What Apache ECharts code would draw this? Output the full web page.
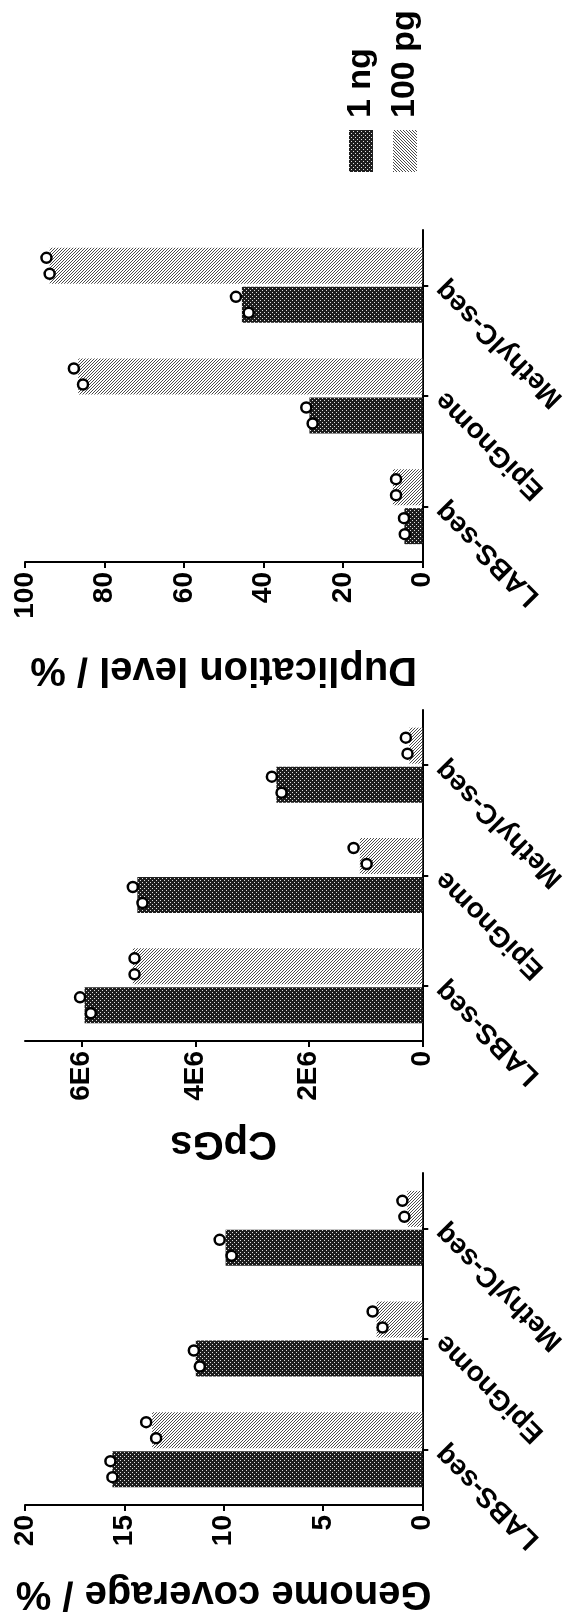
<!DOCTYPE html>
<html><head><meta charset="utf-8">
<script src="https://cdn.jsdelivr.net/npm/echarts@6/dist/echarts.min.js"></script>
<style>html,body{margin:0;padding:0;background:#fff}#c{width:570px;height:1614px}</style>
</head><body><div id="c"></div>
<script>
// ---------- data ----------
const categories = ['LABS-seq', 'EpiGnome', 'MethylC-seq'];
const seriesNames = ['1 ng', '100 pg'];

// Duplication level / %
const dupBars1ng   = [4.5, 28.4, 45.4];
const dupBars100pg = [7.4, 86.6, 93.8];
const dupReps1ng   = [[4.6, 4.4], [29.2, 27.6], [46.9, 43.7]];
const dupReps100pg = [[6.6, 6.6], [87.7, 85.4], [94.6, 93.8]];
const dupTicks = [0, 20, 40, 60, 80, 100];

// CpGs
const cpgBars1ng   = [5.95e6, 5.02e6, 2.57e6];
const cpgBars100pg = [5.10e6, 1.10e6, 0.23e6];
const cpgReps1ng   = [[6.03e6, 5.84e6], [5.10e6, 4.93e6], [2.65e6, 2.48e6]];
const cpgReps100pg = [[5.07e6, 5.07e6], [1.21e6, 0.98e6], [0.29e6, 0.26e6]];
const cpgTicks = [0, 2e6, 4e6, 6e6];
const cpgTickLabels = ['0', '2E6', '4E6', '6E6'];

// Genome coverage / %
const covBars1ng   = [15.6, 11.4, 9.9];
const covBars100pg = [13.6, 2.3, 0.75];
const covReps1ng   = [[15.7, 15.6], [11.5, 11.2], [10.2, 9.6]];
const covReps100pg = [[13.9, 13.4], [2.5, 2.0], [1.0, 0.9]];
const covTicks = [0, 5, 10, 15, 20];

// ---------- styling / layout ----------
const FONT = '"Liberation Sans", Arial, sans-serif';
const BAR_W = 36, BAR_GAP_PX = 3;
const SER_OFF = (BAR_W + BAR_GAP_PX) / 2;
const JITTER = [-8, 8];

function makePattern(kind) {
  const c = document.createElement('canvas');
  if (kind === 'dark') {
    c.width = 4; c.height = 4;
    const g = c.getContext('2d');
    g.fillStyle = '#1e1e1e'; g.fillRect(0, 0, 4, 4);
    g.fillStyle = '#e0e0e0'; g.fillRect(0, 0, 1, 1); g.fillRect(2, 2, 1, 1);
  } else {
    c.width = 3; c.height = 3;
    const g = c.getContext('2d');
    g.fillStyle = '#ffffff'; g.fillRect(0, 0, 3, 3);
    g.fillStyle = '#4a4a4a';
    for (let i = 0; i < 3; i++) g.fillRect(i, 2 - i, 1, 1);
  }
  return { image: c, repeat: 'repeat' };
}
const fills = [makePattern('dark'), makePattern('light')];

const panels = [
  { name: 'Duplication level / %', top: 230, height: 332, max: 100, interval: 20, ticks: dupTicks, labels: null,
    bars: [dupBars1ng, dupBars100pg], reps: [dupReps1ng, dupReps100pg], nameGap: 87 },
  { name: 'CpGs', top: 710, height: 331, max: 7e6, interval: 2e6, ticks: cpgTicks, labels: cpgTickLabels,
    bars: [cpgBars1ng, cpgBars100pg], reps: [cpgReps1ng, cpgReps100pg], nameGap: 82 },
  { name: 'Genome coverage / %', top: 1173, height: 332, max: 20, interval: 5, ticks: covTicks, labels: null,
    bars: [covBars1ng, covBars100pg], reps: [covReps1ng, covReps100pg], nameGap: 68 }
];

const grid = [], xAxis = [], yAxis = [], series = [];
// ECharts places the first bar series on top in a horizontal group:
// draw 100 pg first (upper bar), 1 ng second (lower bar)
const barOrder = [1, 0];
const serSign = [1, -1]; // 1 ng below centre, 100 pg above
panels.forEach((p, k) => {
  grid.push({ left: 25, right: 140, top: p.top, height: p.height });
  xAxis.push({
    gridIndex: k, type: 'value', inverse: true, min: 0, max: p.max, interval: p.interval,
    position: 'bottom',
    name: p.name, nameLocation: 'middle', nameGap: p.nameGap, nameRotate: 180,
    nameTextStyle: { fontFamily: FONT, fontWeight: 'bold', fontSize: 40, color: '#000' },
    axisLine: { show: true, lineStyle: { color: '#000', width: 2 } },
    axisTick: { show: true, length: 6, lineStyle: { color: '#000', width: 2 } },
    splitLine: { show: false },
    axisLabel: {
      rotate: 90, margin: 10, fontFamily: FONT, fontWeight: 'bold', fontSize: 28, color: '#000',
      showMaxLabel: p.ticks.indexOf(p.max) >= 0,
      formatter: v => {
        const i = p.ticks.indexOf(v);
        if (i < 0) return '';
        return p.labels ? p.labels[i] : String(v);
      }
    }
  });
  yAxis.push({
    gridIndex: k, type: 'category', data: categories, position: 'right',
    axisLine: { show: true, lineStyle: { color: '#000', width: 2 } },
    axisTick: { show: true, alignWithLabel: true, length: 6, lineStyle: { color: '#000', width: 2 } },
    axisLabel: { rotate: 135, margin: 18, fontFamily: FONT, fontWeight: 'bold', fontSize: 28, color: '#000' }
  });
  barOrder.forEach(s => {
    series.push({
      type: 'bar', name: seriesNames[s], xAxisIndex: k, yAxisIndex: k,
      barWidth: BAR_W, barGap: (BAR_GAP_PX / BAR_W * 100) + '%',
      itemStyle: { color: fills[s] },
      data: p.bars[s], silent: true, z: 2
    });
  });
  [0, 1].forEach(s => {
    const data = [];
    p.reps[s].forEach((reps, ci) => {
      reps.forEach((v, r) => {
        data.push({ value: [v, ci], symbolOffset: [0, serSign[s] * SER_OFF + JITTER[r]] });
      });
    });
    series.push({
      type: 'scatter', xAxisIndex: k, yAxisIndex: k, data,
      symbol: 'circle', symbolSize: 10,
      itemStyle: { color: '#fff', borderColor: '#000', borderWidth: 2.5, opacity: 1 },
      silent: true, z: 5
    });
  });
});

// legend drawn as rotated graphic (the whole figure is rotated 90deg CCW)
const legendChildren = [];
seriesNames.forEach((n, i) => {
  legendChildren.push({ type: 'rect', shape: { x: 0, y: i * 44, width: 42, height: 24 }, style: { fill: fills[i] } });
  legendChildren.push({ type: 'text', x: 54, y: i * 44 + 12,
    style: { text: n, font: 'bold 34px ' + FONT, fill: '#000', align: 'left', verticalAlign: 'middle' } });
});

const chart = echarts.init(document.getElementById('c'), null, { renderer: 'canvas' });
chart.setOption({
  animation: false,
  backgroundColor: '#fff',
  grid, xAxis, yAxis, series,
  graphic: [{ type: 'group', x: 349, y: 172, rotation: Math.PI / 2, children: legendChildren }]
});
</script>
</body></html>
